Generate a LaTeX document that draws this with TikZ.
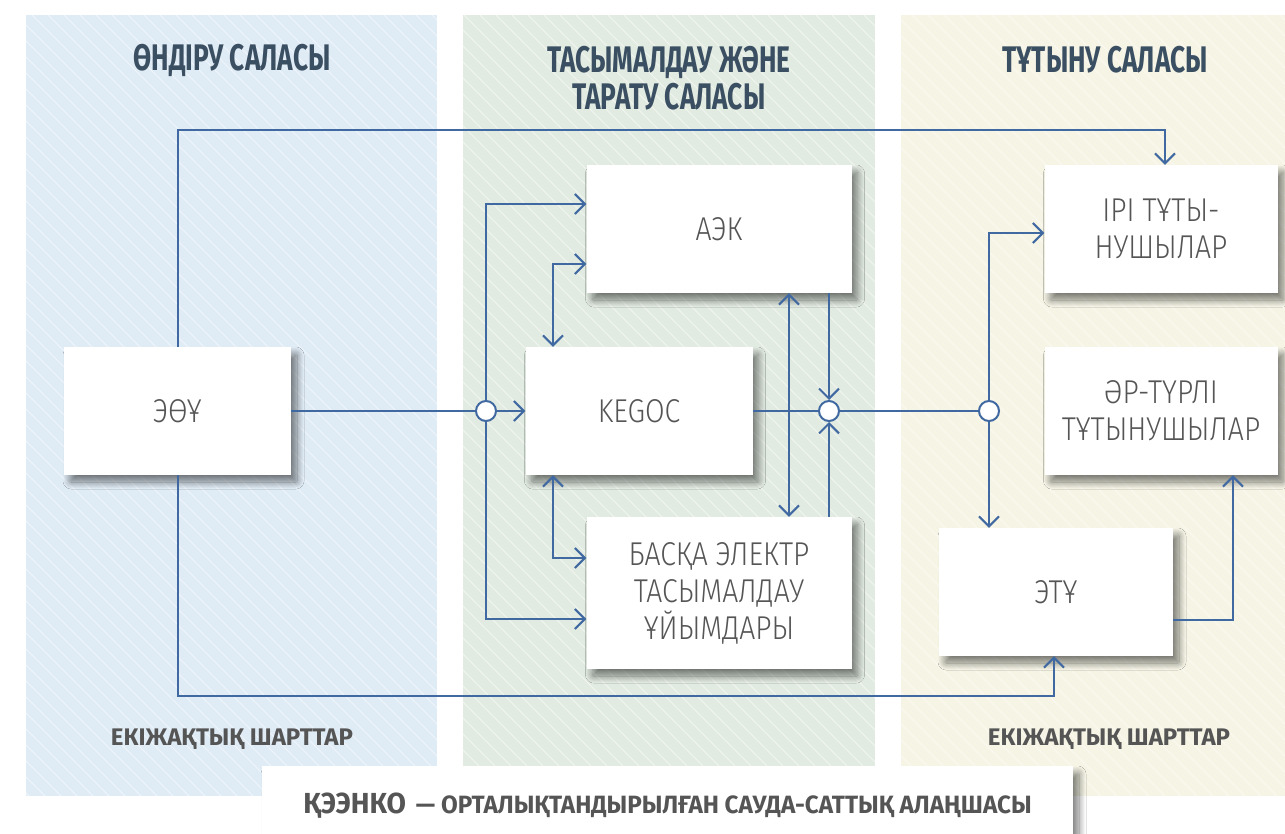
\documentclass[tikz,border=0pt]{standalone}
\usepackage{fontspec}
\setmainfont{Fira Sans}
\newfontfamily\titlefont[FakeStretch=0.71]{Fira Sans}
\newfontfamily\boxfont[FakeStretch=0.86]{Fira Sans Light}
\newfontfamily\barfont[FakeStretch=0.97]{Fira Sans}
\usetikzlibrary{arrows.meta,shadows.blur}
\definecolor{panelblue}{HTML}{DFEBF5}
\definecolor{panelgreen}{HTML}{E2EBE2}
\definecolor{panelcream}{HTML}{F5F4E5}
\definecolor{titlecol}{HTML}{3B4F62}
\definecolor{textcol}{HTML}{555555}
\definecolor{linecol}{HTML}{4169A1}
\tikzset{
  box/.style={blur shadow={shadow xshift=6pt, shadow yshift=-7pt, shadow blur radius=7pt, shadow opacity=50, shadow blur steps=14, shadow blur extra rounding=1pt},
    fill=white, inner sep=0pt, align=center, text=textcol,
    font=\boxfont\fontsize{33}{37}\selectfont},
  titletext/.style={text=titlecol, align=center, font=\titlefont\bfseries\fontsize{37}{37}\selectfont},
  lbltext/.style={text=textcol, font=\bfseries\fontsize{24}{24}\selectfont},
  conn/.style={draw=linecol, line width=2pt},
  arr/.style={conn, -{Straight Barb[length=10pt,width=20pt]}},
  darr/.style={conn, {Straight Barb[length=10pt,width=20pt]}-{Straight Barb[length=10pt,width=20pt]}},
  junction/.style={circle, draw=linecol, line width=2pt, fill=white, minimum size=20pt, inner sep=0pt}
}
\begin{document}
\begin{tikzpicture}[x=1pt,y=-1pt]
\useasboundingbox (0,0) rectangle (1285,834);
\fill[white] (0,0) rectangle (1285,834);
% panels
\fill[panelblue] (26,15) rectangle (437,796);
\fill[panelgreen] (463,15) rectangle (875,796);
\fill[panelcream] (901,15) rectangle (1285,796);
\begin{scope}
  \clip (26,15) rectangle (437,796) (463,15) rectangle (875,796) (901,15) rectangle (1285,796);
  \foreach \i in {-800,-784,...,1290} \draw[white, line width=1pt, opacity=0.5] (\i,15) -- (\i+781,796);
\end{scope}
% titles
\node[titletext] (t1) at (232,60) {ӨНДІРУ САЛАСЫ};
\node[titletext] (t2) at (669,78) {ТАСЫМАЛДАУ ЖӘНЕ\\ТАРАТУ САЛАСЫ};
\node[titletext] (t3) at (1105,60) {ТҰТЫНУ САЛАСЫ};
% boxes
\node[box, minimum width=227, minimum height=128] (eou) at (177.5,411) {ЭӨҰ};
\node[box, minimum width=265, minimum height=128] (aek) at (719,229) {АЭК};
\node[box, minimum width=227, minimum height=128] (kegoc) at (639,411) {KEGOC};
\node[box, minimum width=265, minimum height=152] (baska) at (719,593) {БАСҚА ЭЛЕКТР\\ТАСЫМАЛДАУ\\ҰЙЫМДАРЫ};
\node[box, minimum width=233, minimum height=128] (iri) at (1161,229) {ІРІ ТҰТЫ-\\НУШЫЛАР};
\node[box, minimum width=233, minimum height=128] (ar) at (1161,411) {ӘР-ТҮРЛІ\\ТҰТЫНУШЫЛАР};
\node[box, minimum width=234, minimum height=128] (etu) at (1056,592) {ЭТҰ};
% labels
\node[lbltext] (l1) at (232,739) {ЕКІЖАҚТЫҚ ШАРТТАР};
\node[lbltext] (l2) at (1109,739) {ЕКІЖАҚТЫҚ ШАРТТАР};
% bottom bar
\node[box, minimum width=811, minimum height=80, text=textcol, font=\barfont\bfseries] (kzo) at (667.5,806)
  {{\fontsize{29}{29}\selectfont ҚЭЭНКО}\hspace{10pt}{\fontsize{25}{25}\selectfont — ОРТАЛЫҚТАНДЫРЫЛҒАН САУДА-САТТЫҚ АЛАҢШАСЫ}};
% junctions
\node[junction] (c1) at (486,411) {};
\node[junction] (c2) at (829,411) {};
\node[junction] (c3) at (989,411) {};
% connectors
\coordinate (tp) at (1165,130);
\draw[arr] (eou.north) |- (tp) -- (tp |- iri.north);
\coordinate (bt) at (1054,696);
\draw[arr] (eou.south) |- (bt) -- (bt |- etu.south);
\draw[conn] (eou.east) -- (c1.west);
\draw[arr] (c1.east) -- (kegoc.west);
\draw[arr] (c1.north) |- ([yshift=25pt]aek.west);
\draw[arr] (c1.south) |- ([yshift=-26pt]baska.west);
\draw[darr] ([xshift=-86pt]kegoc.north) |- ([yshift=-35pt]aek.west);
\draw[darr] ([xshift=-86pt]kegoc.south) |- ([yshift=35pt]baska.west);
\draw[darr] ([xshift=70pt]aek.south) -- ([xshift=70pt]baska.north);
\draw[arr] ([xshift=110pt]aek.south) -- (c2.north);
\draw[arr] ([xshift=110pt]baska.north) -- (c2.south);
\draw[conn] (kegoc.east) -- (c2.west);
\draw[conn] (c2.east) -- (c3.west);
\draw[arr] (c3.north) |- ([yshift=-4pt]iri.west);
\draw[arr] (c3.south) -- (c3.south |- etu.north);
\draw[arr] ([yshift=-28pt]etu.east) -| ([xshift=72pt]ar.south);
\end{tikzpicture}
\end{document}
